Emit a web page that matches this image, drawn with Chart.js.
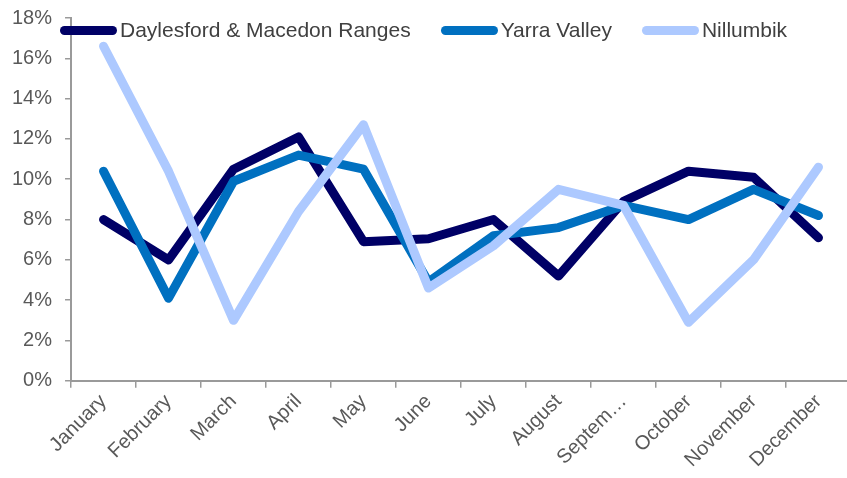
<!DOCTYPE html>
<html>
<head>
<meta charset="utf-8">
<script src="https://cdn.jsdelivr.net/npm/chart.js@4.4.1/dist/chart.umd.min.js"></script>
<style>
  html, body { margin: 0; padding: 0; background: #fff; overflow: hidden; }
  #wrap { position: relative; width: 852px; height: 478px; }
  #legend { position: absolute; left: 60px; top: 18px; display: flex; align-items: center;
            font-family: "Liberation Sans", Arial, sans-serif; font-size: 21px; color: #404040; }
  #legend .item { display: flex; align-items: center; margin-right: 30px; white-space: nowrap; }
  #legend .mark { display: inline-block; width: 57px; height: 9px; border-radius: 4.5px; margin-right: 3px; }
</style>
</head>
<body>
<div id="wrap">
  <canvas id="chart"></canvas>
  <div id="legend"></div>
</div>
<script>
// data (percent)
const months = ['January', 'February', 'March', 'April', 'May', 'June', 'July', 'August',
                'September', 'October', 'November', 'December'];
const seriesNames = ['Daylesford & Macedon Ranges', 'Yarra Valley', 'Nillumbik'];
const daylesford = [8.0, 6.0, 10.5, 12.1, 6.9, 7.05, 8.0, 5.2, 8.9, 10.4, 10.1, 7.1];
const yarraValley = [10.4, 4.1, 9.9, 11.2, 10.5, 4.9, 7.2, 7.6, 8.7, 8.0, 9.5, 8.2];
const nillumbik = [16.6, 10.4, 3.0, 8.4, 12.7, 4.6, 6.7, 9.5, 8.7, 2.9, 6.0, 10.6];
const yTicks = [0, 2, 4, 6, 8, 10, 12, 14, 16, 18];

const colors = ['#000066', '#0070C0', '#ADC9FF'];
const axisGrey = '#9a9a9a';
const textGrey = '#595959';

function lineSet(i, data, order) {
    return {
        label: seriesNames[i],
        data: data,
        borderColor: colors[i],
        backgroundColor: colors[i],
        borderWidth: 9,
        borderCapStyle: 'round',
        borderJoinStyle: 'round',
        pointRadius: 0,
        tension: 0,
        order: order
    };
}

// builds the legend above the plot from the datasets
const htmlLegend = {
    id: 'htmlLegend',
    afterUpdate(chart) {
        const box = document.getElementById('legend');
        box.innerHTML = '';
        chart.data.datasets.forEach(ds => {
            const item = document.createElement('span');
            item.className = 'item';
            const mark = document.createElement('span');
            mark.className = 'mark';
            mark.style.background = ds.borderColor;
            item.appendChild(mark);
            item.appendChild(document.createTextNode(ds.label));
            box.appendChild(item);
        });
    }
};

new Chart(document.getElementById('chart'), {
    type: 'line',
    data: {
        labels: months,
        datasets: [
            lineSet(0, daylesford, 3),
            lineSet(1, yarraValley, 2),
            lineSet(2, nillumbik, 1)
        ]
    },
    options: {
        responsive: true,
        maintainAspectRatio: false,
        animation: false,
        layout: { padding: { top: 18, left: -1, right: 1, bottom: 4 } },
        plugins: {
            legend: { display: false },
            tooltip: { enabled: false }
        },
        scales: {
            x: {
                offset: true,
                // rotated first label fits under the y labels, no extra room needed
                afterFit: scale => { scale.paddingLeft = 0; },
                grid: { display: true, offset: true, drawOnChartArea: false, drawTicks: true,
                        tickLength: 7, color: axisGrey, lineWidth: 1.5 },
                border: { color: axisGrey, width: 2 },
                ticks: {
                    color: textGrey,
                    font: { family: '"Liberation Sans", Arial, sans-serif', size: 20 },
                    minRotation: 45, maxRotation: 45, autoSkip: false, padding: 2,
                    callback: function (v) {
                        const s = this.getLabelForValue(v);
                        return s.length > 8 ? s.slice(0, 6) + '…' : s;
                    }
                }
            },
            y: {
                min: 0, max: 18,
                afterBuildTicks: axis => { axis.ticks = yTicks.map(v => ({ value: v })); },
                afterFit: scale => { scale.paddingTop = 0; scale.paddingBottom = 0; },
                grid: { drawOnChartArea: false, drawTicks: true, tickLength: 6,
                        color: axisGrey, lineWidth: 1.5 },
                border: { color: axisGrey, width: 2 },
                ticks: {
                    color: textGrey,
                    padding: 13,
                    font: { family: '"Liberation Sans", Arial, sans-serif', size: 20 },
                    callback: v => v + '%'
                }
            }
        }
    },
    plugins: [htmlLegend]
});
</script>
</body>
</html>
